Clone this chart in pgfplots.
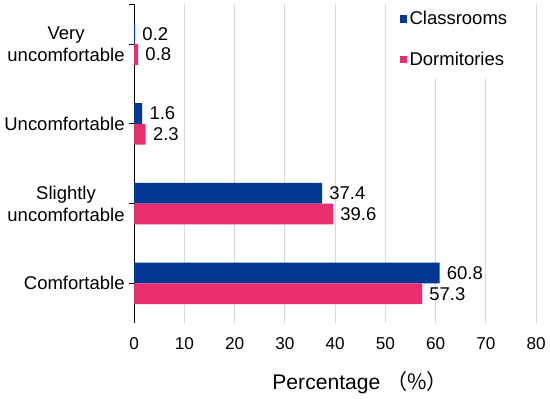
\documentclass[border=0pt]{standalone}
\usepackage{fontspec}
\setmainfont{Liberation Sans}
\newfontfamily\cjk{Noto Sans CJK SC}
\usepackage{pgfplots}
\pgfplotsset{compat=1.18}
\definecolor{cblue}{RGB}{0,56,147}
\definecolor{cpink}{RGB}{232,46,110}
\definecolor{cgrid}{RGB}{217,217,217}
\begin{document}
\begin{tikzpicture}
\begin{axis}[
  scale only axis, width=304.5pt, height=241.5pt,
  xmin=0, xmax=80, ymin=-0.5, ymax=3.5,
  axis lines*=left,
  x axis line style={draw=none},
  y axis line style={black, line width=0.8pt},
  xtick={0,10,...,80},
  xtick style={draw=none},
  ytick={0,1,2,3},
  extra y ticks={3.5},
  extra y tick labels={},
  extra y tick style={tick style={black, line width=0.8pt}},
  yticklabels={Comfortable, Slightly\\uncomfortable, Uncomfortable, Very\\uncomfortable},
  yticklabel style={align=center, font=\fontsize{14}{16.5}\selectfont},
  xticklabel style={font=\fontsize{13}{15}\selectfont, yshift=-3.5pt},
  ytick style={black, line width=0.8pt},
  tick align=outside,
  major tick length=3.75pt,
  /pgf/number format/assume math mode=true,
  /pgf/number format/fixed,
  /pgf/number format/precision=1,
  xmajorgrids,
  grid style={cgrid, line width=0.6pt},
  xbar,
  bar width=0.26,
  xlabel={Percentage \cjk{（}\%\cjk{）}},
  xlabel style={font=\fontsize{16}{19}\selectfont, xshift=19pt, yshift=-10pt},
  nodes near coords,
  every node near coord/.append style={font=\fontsize{14}{16}\selectfont, anchor=west, xshift=2pt, text=black},
  legend style={at={(0.955,1.012)}, anchor=north east, draw=none, fill=white,
    font=\fontsize{14}{16}\selectfont, row sep=15pt, inner xsep=6pt, inner ysep=6pt,
    cells={anchor=west}},
  legend image code/.code={\fill[#1] (0pt,-2.8pt) rectangle (5.4pt,2.8pt);},
]
\addplot[fill=cblue, draw=none, bar shift=0.13] coordinates {(60.8,0) (37.4,1) (1.6,2) (0.2,3)};
\addlegendentry{Classrooms}
\addplot[fill=cpink, draw=none, bar shift=-0.13] coordinates {(57.3,0) (39.6,1) (2.3,2) (0.8,3)};
\addlegendentry{Dormitories}
\end{axis}
\end{tikzpicture}
\end{document}
